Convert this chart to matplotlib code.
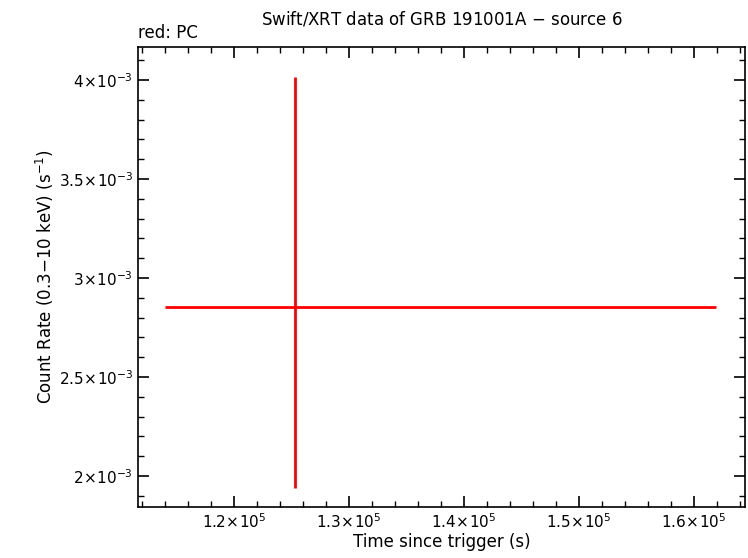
import matplotlib
matplotlib.use("Agg")
import matplotlib.pyplot as plt
from matplotlib.ticker import MultipleLocator, FuncFormatter

x = [1.253e5]
x_lo = [1.140e5]
x_hi = [1.619e5]
y = [2.854e-3]
y_lo = [1.939e-3]
y_hi = [4.015e-3]

fig = plt.figure(figsize=(7.48, 5.58), dpi=100)
ax = fig.add_axes([138/748, 1-507/558, (745-138)/748, (507-47)/558])
xerr = [[x[0]-x_lo[0]], [x_hi[0]-x[0]]]
yerr = [[y[0]-y_lo[0]], [y_hi[0]-y[0]]]
ax.errorbar(x, y, xerr=xerr, yerr=yerr, fmt='none', ecolor='red', elinewidth=2, capsize=0)
ax.set_xlim(1.1165e5, 1.6443e5)
ax.set_ylim(1.843e-3, 4.167e-3)
ax.xaxis.set_major_locator(MultipleLocator(1e4))
ax.xaxis.set_minor_locator(MultipleLocator(2e3))
ax.yaxis.set_major_locator(MultipleLocator(5e-4))
ax.yaxis.set_minor_locator(MultipleLocator(1e-4))

def fmt(v, p, e):
    m = v / 10**e
    return r"$%g\!\times\!10^{%d}$" % (round(m, 1), e)
ax.xaxis.set_major_formatter(FuncFormatter(lambda v, p: fmt(v, p, 5)))
ax.yaxis.set_major_formatter(FuncFormatter(lambda v, p: fmt(v, p, -3)))
ax.tick_params(which='both', direction='in', top=True, right=True, labelsize=11)
ax.tick_params(which='major', length=8, width=1.2)
ax.tick_params(which='minor', length=4, width=1)
for s in ax.spines.values():
    s.set_linewidth(1.2)
ax.set_xlabel("Time since trigger (s)", fontsize=12, labelpad=2)
ax.set_ylabel(r"Count Rate (0.3$-$10 keV) (s$^{-1}$)", fontsize=12, labelpad=2)
ax.set_title("Swift/XRT data of GRB 191001A $-$ source 6", fontsize=12, pad=16)
ax.text(0, 1.01, "red: PC", transform=ax.transAxes, fontsize=12, ha='left', va='bottom')
fig.savefig("out.png", dpi=100)
